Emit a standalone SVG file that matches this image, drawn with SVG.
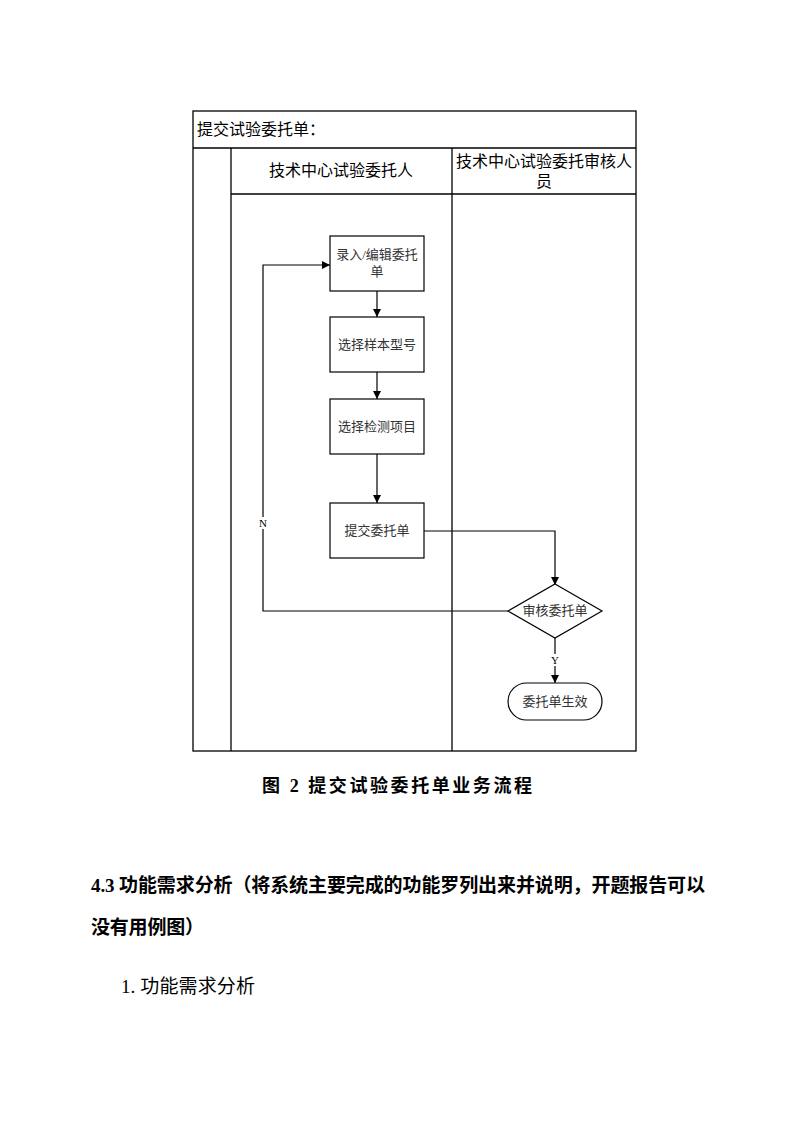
<svg xmlns="http://www.w3.org/2000/svg" width="794" height="1123" viewBox="0 0 794 1123">
<defs>
<marker id="arr" viewBox="0 0 10 10" refX="10" refY="5" markerWidth="8" markerHeight="8" markerUnits="userSpaceOnUse" orient="auto"><path d="M0,0 L10,5 L0,10 z" fill="#000"/></marker>
<style>
.frame{fill:none;stroke:#000;stroke-width:1.3}
.node{fill:#fff;stroke:#000;stroke-width:1.2}
.conn{fill:none;stroke:#000;stroke-width:1.2}
.t{font-family:"Liberation Serif","Noto Sans CJK SC",serif;font-size:13px;fill:#333;text-anchor:middle}
.h{font-family:"Liberation Sans","Noto Sans CJK SC",sans-serif;font-size:16px;fill:#000}
.lbl{font-family:"Liberation Serif","Noto Sans CJK SC",serif;font-size:11px;fill:#000;text-anchor:middle}
.b{font-family:"Liberation Serif","Noto Sans CJK SC",serif;font-weight:bold;fill:#000}
</style>
</defs>
<rect width="794" height="1123" fill="#fff"/>
<g id="pool">
<rect class="frame" x="193" y="111" width="443" height="640"/>
<line class="frame" x1="193" y1="148" x2="636" y2="148"/>
<line class="frame" x1="231" y1="148" x2="231" y2="751"/>
<line class="frame" x1="452" y1="148" x2="452" y2="751"/>
<line class="frame" x1="231" y1="194" x2="636" y2="194"/>
<text class="h" x="197" y="135">提交试验委托单：</text>
<text class="h" x="341" y="176" text-anchor="middle">技术中心试验委托人</text>
<text class="h" x="544" y="167" text-anchor="middle">技术中心试验委托审核人</text>
<text class="h" x="544" y="187" text-anchor="middle">员</text>
</g>
<g id="connectors">
<line class="conn" x1="377" y1="291" x2="377" y2="317" marker-end="url(#arr)"/>
<line class="conn" x1="377" y1="372" x2="377" y2="399" marker-end="url(#arr)"/>
<line class="conn" x1="377" y1="454" x2="377" y2="503" marker-end="url(#arr)"/>
<polyline class="conn" points="424,531 555,531 555,585" marker-end="url(#arr)"/>
<polyline class="conn" points="508,611 263,611 263,529"/>
<polyline class="conn" points="263,517 263,265 330,265" marker-end="url(#arr)"/>
<text class="lbl" x="263" y="527">N</text>
<line class="conn" x1="555" y1="638" x2="555" y2="654"/>
<line class="conn" x1="555" y1="666" x2="555" y2="683" marker-end="url(#arr)"/>
<text class="lbl" x="555" y="664">Y</text>
</g>
<g id="n1">
<rect class="node" x="330" y="236" width="94" height="55"/>
<text class="t" x="377" y="259">录入/编辑委托</text>
<text class="t" x="377" y="276">单</text>
</g>
<g id="n2">
<rect class="node" x="330" y="317" width="94" height="55"/>
<text class="t" x="377" y="349">选择样本型号</text>
</g>
<g id="n3">
<rect class="node" x="330" y="399" width="94" height="55"/>
<text class="t" x="377" y="431">选择检测项目</text>
</g>
<g id="n4">
<rect class="node" x="330" y="503" width="94" height="55"/>
<text class="t" x="377" y="535">提交委托单</text>
</g>
<g id="n5">
<polygon class="node" points="555,584 602,611 555,638 508,611"/>
<text class="t" x="555" y="615">审核委托单</text>
</g>
<g id="n6">
<rect class="node" x="508" y="683" width="94" height="37" rx="18.5" ry="18.5"/>
<text class="t" x="555" y="706">委托单生效</text>
</g>
<g id="text">
<text class="b" x="262" y="792" font-size="18" textLength="270" lengthAdjust="spacing">图 2 提交试验委托单业务流程</text>
<text class="b" x="91" y="892" font-size="19" textLength="614" lengthAdjust="spacing">4.3 功能需求分析（将系统主要完成的功能罗列出来并说明，开题报告可以</text>
<text class="b" x="91" y="934" font-size="19" textLength="113" lengthAdjust="spacing">没有用例图）</text>
<text x="121" y="993" font-family="Liberation Serif,Noto Sans CJK SC,serif" font-size="19" fill="#000" textLength="134" lengthAdjust="spacing">1. 功能需求分析</text>
</g>
</svg>
